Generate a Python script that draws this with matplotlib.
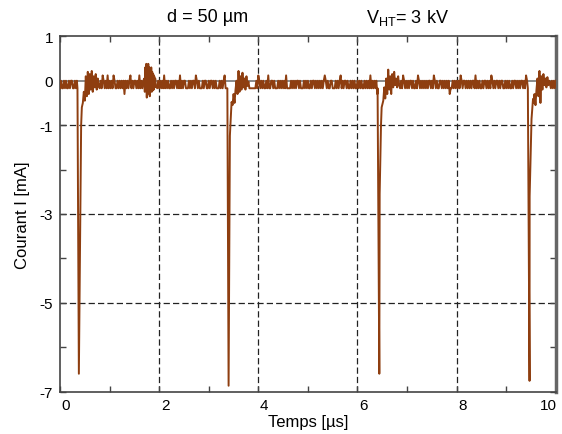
import numpy as np
import matplotlib
matplotlib.use('Agg')
import matplotlib.pyplot as plt
import matplotlib.transforms as mtransforms

plt.rcParams['font.family'] = ['Liberation Sans', 'DejaVu Sans']
plt.rcParams['mathtext.fontset'] = 'custom'
plt.rcParams['mathtext.rm'] = 'Liberation Sans'
plt.rcParams['axes.unicode_minus'] = False

# baseline noise, one char per 0.02 us
# l = low, h = high, p = positive flick, d = dip
level = {'l': -0.17, 'h': 0.0, 'p': 0.12, 'd': -0.3}
base = ("lhllhlhllhlhhllhlhlllllllllllllllllllllllhlphlhlpl"
        "hlhlphllhlhlhlhdhlhlhplhlhhlhlplhlhllllllllllllhlh"
        "lhlhlplhlhllhlhlhhlhlplhlhhlllhlhlhhlphlhlllhlhhll"
        "hlhhlhlhlllhlhlhpllhlhlhhlhlhlllllllllllllllllllhl"
        "phlhlhllhlpllhhlhlllhlhlhlhlpllllhlhlhlhhlhlllhlhl"
        "hllhlhhlhlhlhlhlhphlhllhhlllhlhlhplhlhhlhllhlhlhll"
        "hlhlhllhlhlhlplhlhlhdhllllllllllllllllllllhlhlphlh"
        "lhlhhlhllhlphlhlhlhlhlhhlhlphlhllhhlhlhlhlhdllhlhl"
        "hlhlphlhhlhlhlhlhhlplhlhllhlhhlhlhlphlhlhhlhlhhllh"
        "lhlhllhlhhlhlhlhhlhlphlhllllllllllllllllllllhlhlhl"
        "h")
dt = 0.02

# burst near 1.7-1.93 us, 0.01 us per value
burst_t0 = 1.70
burst = [0.05, -0.25, 0.3, -0.2, 0.38, -0.38, 0.35, -0.3, 0.38, -0.25, 0.3, -0.35,
         0.28, -0.2, 0.3, -0.25, 0.2, -0.22, 0.15, -0.2, 0.1, -0.15, 0.05, -0.1]

# spikes: time of minimum, then profile (offset us, value mA)
spike_t = [0.38, 3.40, 6.44, 9.47]
spike_off = [[-0.028, 0.0, 0.046, 0.06],
             [-0.025, 0.0, 0.026, 0.06],
             [-0.035, 0.0, 0.007, 0.034, 0.047],
             [-0.034, 0.0, 0.002, 0.04, 0.07]]
spike_val = [[-0.17, -6.6, -1.0, -0.6],
             [-0.17, -6.87, -1.24, -0.48],
             [-0.17, -6.6, -2.55, -1.0, -0.6],
             [-0.17, -6.76, -2.6, -0.86, -0.41]]
# recovery after each spike, from +0.08 us, every 0.02 us
recovery = [[-0.5, -0.25, -0.45, 0.1, -0.35, 0.2, -0.3, 0.15, -0.2, 0.22, -0.25, 0.1, -0.15, 0.15, -0.2, 0.05, -0.12],
            [-0.55, -0.3, -0.5, -0.2, 0.0, -0.3, 0.22, -0.25, 0.1, -0.2, 0.18, -0.15, 0.05, -0.2, 0.1, -0.12, -0.02],
            [-0.45, -0.15, -0.4, 0.05, -0.3, 0.25, -0.2, 0.1, -0.3, 0.15, -0.15, 0.2, -0.1, 0.05, -0.15, 0.1, -0.1],
            [-0.5, -0.3, -0.55, -0.2, 0.05, -0.35, 0.22, -0.5, 0.1, -0.2, 0.15, -0.1, 0.05, -0.15, 0.08, -0.1, 0.0]]

xticks = [0, 2, 4, 6, 8, 10]
yticks = [1, 0, -1, -3, -5, -7]
yminor = [-2, -4, -6]
xgrid = [2, 4, 6, 8]
ygrid = [-1, -3, -5]

# assemble the trace
tb = np.arange(len(base)) * dt
vb = np.array([level[c] for c in base])
keep = ~((tb > burst_t0 - 0.005) & (tb < burst_t0 + 0.01 * len(burst) + 0.005))
for t0 in spike_t:
    keep &= ~((tb > t0 - 0.04) & (tb < t0 + 0.08 + dt * len(recovery[0])))
ts = [tb[keep]]
vs = [vb[keep]]
ts.append(burst_t0 + 0.01 * np.arange(len(burst)))
vs.append(np.array(burst))
for k, t0 in enumerate(spike_t):
    ts.append(t0 + np.array(spike_off[k]))
    vs.append(np.array(spike_val[k]))
    ts.append(t0 + 0.08 + dt * np.arange(len(recovery[k])))
    vs.append(np.array(recovery[k]))
t = np.concatenate(ts)
v = np.concatenate(vs)
order = np.argsort(t)
t = t[order]
v = v[order]

fig = plt.figure(figsize=(5.62, 4.35), dpi=100)
ax = fig.add_axes([0.1068, 0.0977, 0.8822, 0.8165])

for x in xgrid:
    ax.axvline(x, color='#222222', lw=0.9, dashes=(5, 2.5), zorder=1)
for y in ygrid:
    ax.axhline(y, color='#222222', lw=0.9, dashes=(5, 2.5), zorder=1)
ax.axhline(0, color='#777777', lw=1.2, zorder=2)

ax.plot(t, v, color='#8e3e10', lw=1.4, zorder=3)

ax.set_xlim(0, 10)
ax.set_ylim(-7, 1)
ax.set_xticks(xticks)
ax.set_xticks([1, 3, 5, 7, 9], minor=True)
ax.set_yticks(yticks)
ax.set_yticks(yminor, minor=True)
ax.tick_params(which='both', direction='in', top=True, right=True, length=4,
               width=1, color='#444444', labelsize=11, pad=5)
labels = ax.get_xticklabels()
for k, lab in enumerate(labels):
    dx = 0.06 if k < len(labels) - 1 else -0.07
    lab.set_transform(lab.get_transform() + mtransforms.ScaledTranslation(dx, 0, fig.dpi_scale_trans))

for side in ['left', 'bottom', 'top']:
    ax.spines[side].set_color('#444444')
    ax.spines[side].set_linewidth(1.2)
ax.spines['right'].set_color('#666666')
ax.spines['right'].set_linewidth(2.5)

ax.set_xlabel('Temps [µs]', fontsize=12, labelpad=1)
ax.set_ylabel('Courant I [mA]', fontsize=12, labelpad=7)

fig.text(208 / 562, 1 - 18 / 435, 'd = 50 µm', fontsize=13, ha='center', va='center')
fig.text(407 / 562, 1 - 18 / 435, r'V$_{\mathrm{HT}}$= 3 kV', fontsize=13, ha='center', va='center')

fig.savefig('out.png', dpi=100)
